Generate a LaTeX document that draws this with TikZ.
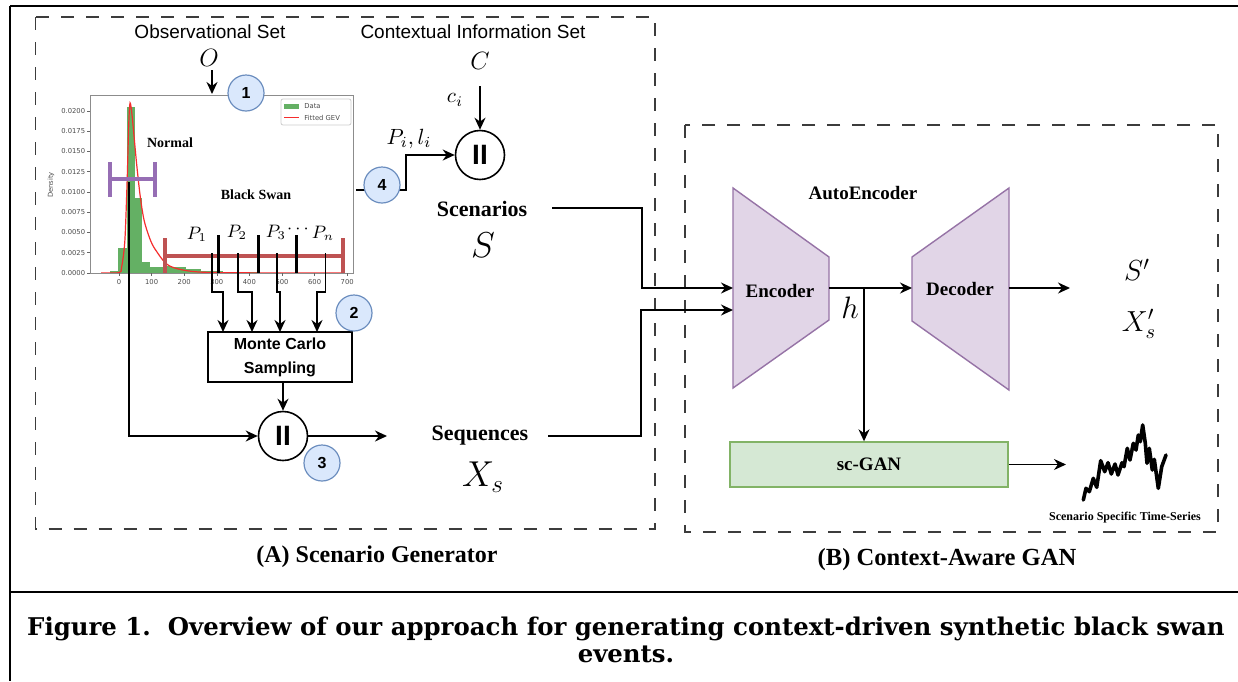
\RequirePackage{fix-cm}
\documentclass[tikz,border=0pt]{standalone}
\usepackage{fontspec}
\setmainfont{Liberation Serif}
\setsansfont{Liberation Sans}
\newfontfamily\capfont{DejaVu Serif}
\newfontfamily\mplfont{DejaVu Sans}
\usetikzlibrary{arrows.meta,calc}
\definecolor{numfill}{RGB}{218,232,252}
\definecolor{numdraw}{RGB}{108,142,191}
\definecolor{aefill}{RGB}{225,213,231}
\definecolor{aedraw}{RGB}{150,115,166}
\definecolor{ganfill}{RGB}{213,232,212}
\definecolor{gandraw}{RGB}{130,179,102}
\definecolor{histgreen}{RGB}{100,176,100}
\definecolor{normpurple}{RGB}{150,110,180}
\definecolor{swanred}{RGB}{190,82,82}
\definecolor{gevred}{RGB}{245,45,45}
\definecolor{boxgray}{RGB}{60,60,60}
\begin{document}
\begin{tikzpicture}[x=0.5pt,y=-0.5pt,
  conn/.style={line width=0.75pt,-{Stealth[length=6pt,width=5.5pt]}},
  dbox/.style={draw=boxgray,line width=0.75pt,dash pattern=on 6.5pt off 6pt},
  numc/.style={circle,draw=numdraw,fill=numfill,line width=0.6pt,minimum size=18pt,inner sep=0pt,font=\sffamily\bfseries\fontsize{8}{9}\selectfont},
  parc/.style={circle,draw,line width=0.8pt,fill=white,minimum size=24.5pt,inner sep=0pt,font=\sffamily\bfseries\fontsize{14}{14}\selectfont},
  sanslbl/.style={inner sep=0pt,font=\sffamily\fontsize{9.5}{11}\selectfont},
  serb/.style={inner sep=0pt,font=\bfseries\fontsize{11}{13}\selectfont},
  aeb/.style={inner sep=0pt,font=\bfseries\fontsize{9.5}{11}\selectfont},
  ticklbl/.style={inner sep=0pt,text=black!70,font=\mplfont\fontsize{3.4}{4}\selectfont},
  mathlbl/.style={inner sep=0pt},
  aeshape/.style={draw=aedraw,fill=aefill,line width=0.7pt},
  ganbox/.style={draw=gandraw,fill=ganfill,line width=0.7pt,minimum width=139pt,minimum height=22.5pt,inner sep=0pt,font=\bfseries\fontsize{9.5}{11}\selectfont},
  mcbox/.style={draw,line width=0.75pt,minimum width=72pt,minimum height=25pt,inner sep=0pt,align=center,font=\sffamily\bfseries\fontsize{8}{12}\selectfont},
  hbarP/.style={draw=normpurple,line width=2pt},
  hbarR/.style={draw=swanred,line width=2.3pt},
  pmark/.style={draw=black,line width=1.6pt},
  capstyle/.style={inner sep=0pt,anchor=base,font=\capfont\bfseries\fontsize{12.2}{14}\selectfont},
]
\useasboundingbox (0,0) rectangle (1238,681);
\fill[white] (0,0) rectangle (1238,681);

% outer frame
\draw[line width=1pt] (10,6) -- (1238,6);
\draw[line width=1pt] (10,6) -- (10,681);
\draw[line width=1pt] (10,592) -- (1238,592);

% dashed group boxes
\draw[dbox] (35.5,17) rectangle (655,529);
\draw[dbox] (685,125) rectangle (1218,532);

% ---------- histogram ----------
\begin{scope}[shift={(119,273)},xscale=0.326,yscale=-0.81]
  \foreach \a/\b/\h in {-27/-3/2,-3/24/31,24/49/205,49/70/93,70/95/14,95/116/8,116/136/8,136/159/9,159/182/8,182/205/7,205/228/5,228/251/5,251/274/3,274/297/3,297/320/2,320/366/1.2,366/430/0.8}
    \fill[histgreen] (\a,0) rectangle (\b,\h);
  \draw[gevred,line width=0.6pt] plot[smooth,tension=0.5] coordinates {(-55,0) (0,0.5) (8,7) (18,40) (25,114) (30,185) (34,210) (40,195) (47,165) (54,135) (65,95) (77,65) (95,42) (113,28) (154,9) (236,1.5) (400,0.2) (690,0)};
\end{scope}
\draw[black!45,line width=0.5pt] (90,95) rectangle (353,273);
% y ticks
\foreach \k/\lab in {0/0.0000,1/0.0025,2/0.0050,3/0.0075,4/0.0100,5/0.0125,6/0.0150,7/0.0175,8/0.0200}{
  \draw[black!60,line width=0.3pt] (87,{273-20.25*\k}) -- (90,{273-20.25*\k});
  \node[ticklbl,anchor=east] (yt\k) at (85.5,{273-20.25*\k}) {\lab};
}
% x ticks
\foreach \v in {0,100,...,700}{
  \draw[black!60,line width=0.3pt] ({119+0.326*\v},273) -- ({119+0.326*\v},276);
  \node[ticklbl] (xt\v) at ({119+0.326*\v},282) {\v};
}
\node[ticklbl,rotate=90] (dens) at (51,185) {Density};
% legend
\draw[black!20,fill=white,line width=0.4pt,rounded corners=1pt] (281,99) rectangle (351,125);
\fill[histgreen] (284,103.5) rectangle (299,108.5);
\draw[gevred,line width=0.9pt] (284,117.5) -- (299,117.5);
\node[ticklbl,anchor=west] (lgd) at (304,106) {Data};
\node[ticklbl,anchor=west] (lgf) at (304,117.5) {Fitted GEV};

\node[inner sep=0pt,font=\bfseries\fontsize{7}{8}\selectfont] (normal) at (170,143) {Normal};
\node[inner sep=0pt,font=\bfseries\fontsize{7}{8}\selectfont] (bswan) at (256,195) {Black Swan};

% Normal range bar
\draw[hbarP] (110,162) -- (110,197);
\draw[hbarP] (155,162) -- (155,197);
\draw[hbarP] (110,179) -- (155,179);
% black swan range bar
\draw[hbarR] (165,238) -- (165,273);
\draw[hbarR] (343,238) -- (343,273);
\draw[hbarR] (165,256) -- (343,256);
% partition marks
\draw[pmark] (218.3,235) -- (218.3,273);
\draw[pmark] (258.3,235) -- (258.3,273);
\draw[pmark] (296.7,235) -- (296.7,273);
\node[mathlbl,font=\fontsize{9}{10}\selectfont] (p1) at (197,234) {$P_1$};
\node[mathlbl,font=\fontsize{9}{10}\selectfont] (p2) at (237,232) {$P_2$};
\node[mathlbl,font=\fontsize{9}{10}\selectfont] (p3) at (276,232) {$P_3$};
\node[mathlbl,font=\fontsize{9}{10}\selectfont] (pd) at (298,229) {$\cdots$};
\node[mathlbl,font=\fontsize{9}{10}\selectfont] (pn) at (323,233) {$P_n$};

% ---------- scenario generator ----------
\node[sanslbl] (obsset) at (210,32) {Observational Set};
\node[sanslbl] (ctxset) at (473,32) {Contextual Information Set};
\node[mathlbl,font=\fontsize{12.5}{14}\selectfont] (O) at (209,58) {$O$};
\node[mathlbl,font=\fontsize{12.5}{14}\selectfont] (C) at (480,61) {$C$};
\coordinate (oa) at (212,70);
\coordinate (ob) at (212,94);
\draw[conn] (oa) -- (ob);
\node[numc] (n1) at (246,93) {1};

\node[mathlbl,font=\fontsize{10.5}{12}\selectfont] (ci) at (455,100) {$c_i$};
\node[parc] (par1) at (480,155) {II};
\coordinate (ca) at (480,86);
\draw[conn] (ca) -- (par1.north);

\coordinate (p4s) at (356,190);
\coordinate (bend4) at (406,155);
\draw[conn] (p4s) -| (bend4) -- (par1.west);
\node[numc] (n4) at (382,185) {4};
\node[mathlbl,font=\fontsize{11}{12}\selectfont] (pili) at (409,139) {$P_i, l_i$};

\node[serb] (scen) at (482,209) {Scenarios};
\node[mathlbl,font=\fontsize{18}{20}\selectfont] (S) at (483,245) {$S$};

% sampling lines
\node[mcbox] (mc) at (280,357) {Monte Carlo\\Sampling};
\coordinate (s1) at (212,253);
\coordinate (s2) at (238,253);
\coordinate (s3) at (277,253);
\coordinate (s4) at (325.5,253);
\coordinate (t1) at (223,332);
\coordinate (t2) at (252,332);
\coordinate (t3) at (280,332);
\coordinate (t4) at (317,332);
\draw[conn] (s1) -- ++(0,39) -| (t1);
\draw[conn] (s2) -- ++(0,39) -| (t2);
\draw[conn] (s3) -- ++(0,39) -| (t3);
\draw[conn] (s4) -- ++(0,39) -| (t4);
\node[numc] (n2) at (354,313) {2};

\node[parc] (par2) at (283,436) {II};
\draw[conn] (mc.south -| par2.north) -- (par2.north);
\coordinate (blk) at (129,182);
\draw[conn] (blk) |- (par2.west);
\node[numc] (n3) at (322,463) {3};
\coordinate (sqIn) at (387,436);
\draw[conn] (par2.east) -- (sqIn);

\node[serb] (seq) at (480,436) {Sequences};
\node[mathlbl,font=\fontsize{18}{20}\selectfont] (Xs) at (483,477) {$X_s$};

% ---------- context-aware GAN ----------
\draw[aeshape] (733,188) -- (829,257) -- (829,320) -- (733,388) -- cycle;
\draw[aeshape] (912,257) -- (1009,188) -- (1009,390) -- (912,321) -- cycle;
\node[aeb] (enc) at (780,291) {Encoder};
\node[aeb] (dec) at (960,289) {Decoder};
\node[aeb] (ae) at (863,193) {AutoEncoder};

\coordinate (scS) at (552,208);
\coordinate (encA) at (733,288);
\draw[conn] (scS) -- ++(90,0) |- (encA);
\coordinate (sqS) at (548,436);
\coordinate (encB) at (733,310);
\draw[conn] (sqS) -- ++(93,0) |- (encB);

\coordinate (encO) at (829,288);
\coordinate (decI) at (912,288);
\draw[conn] (encO) -- (decI);
\node[mathlbl,font=\fontsize{15.5}{17}\selectfont] (h) at (850,308) {$h$};
\node[ganbox] (gan) at (869,464.5) {sc-GAN};
\coordinate (hj) at (864,288);
\draw[conn] (hj) -- (hj |- gan.north);
\coordinate (decO) at (1009,288);
\coordinate (outE) at (1070,288);
\draw[conn] (decO) -- (outE);
\node[mathlbl,font=\fontsize{14.5}{16}\selectfont] (Sp) at (1137,270) {$S'$};
\node[mathlbl,font=\fontsize{14.5}{16}\selectfont] (Xp) at (1139,324) {$X'_s$};

\coordinate (tsIn) at (1066,464.5);
\draw[conn] (gan.east) -- (tsIn);
\draw[line width=1.8pt,line join=round,line cap=round] (1083.3,500) -- (1086,488.3) -- (1089.3,491.7) -- (1093.3,478.3) -- (1096.7,487.3) -- (1100.7,460.7) -- (1104.7,471.7) -- (1108,462.7) -- (1111.3,474) -- (1115,464) -- (1118,475) -- (1122,462.7) -- (1124,466.7) -- (1127.3,448.3) -- (1130,460) -- (1133.3,443.3) -- (1136,450) -- (1138.3,435) -- (1140.3,441.7) -- (1142.7,425) -- (1145.3,443.3) -- (1147,463.3) -- (1149.3,448.3) -- (1152.3,470) -- (1154.3,459.3) -- (1158.3,488.3) -- (1161.7,466.7) -- (1166,455);
\node[inner sep=0pt,font=\bfseries\fontsize{6}{7}\selectfont] (tslbl) at (1125,518) {Scenario Specific Time-Series};

% ---------- titles & caption ----------
\node[inner sep=0pt,font=\bfseries\fontsize{12}{14}\selectfont] (titA) at (377,557) {(A) Scenario Generator};
\node[inner sep=0pt,font=\bfseries\fontsize{12.3}{14}\selectfont] (titB) at (947,560) {(B) Context-Aware GAN};
\node[capstyle] (cap1) at (626,635) {Figure 1.\ \ Overview of our approach for generating context-driven synthetic black swan};
\node[capstyle] (cap2) at (626,662) {events.};
\end{tikzpicture}
\end{document}
